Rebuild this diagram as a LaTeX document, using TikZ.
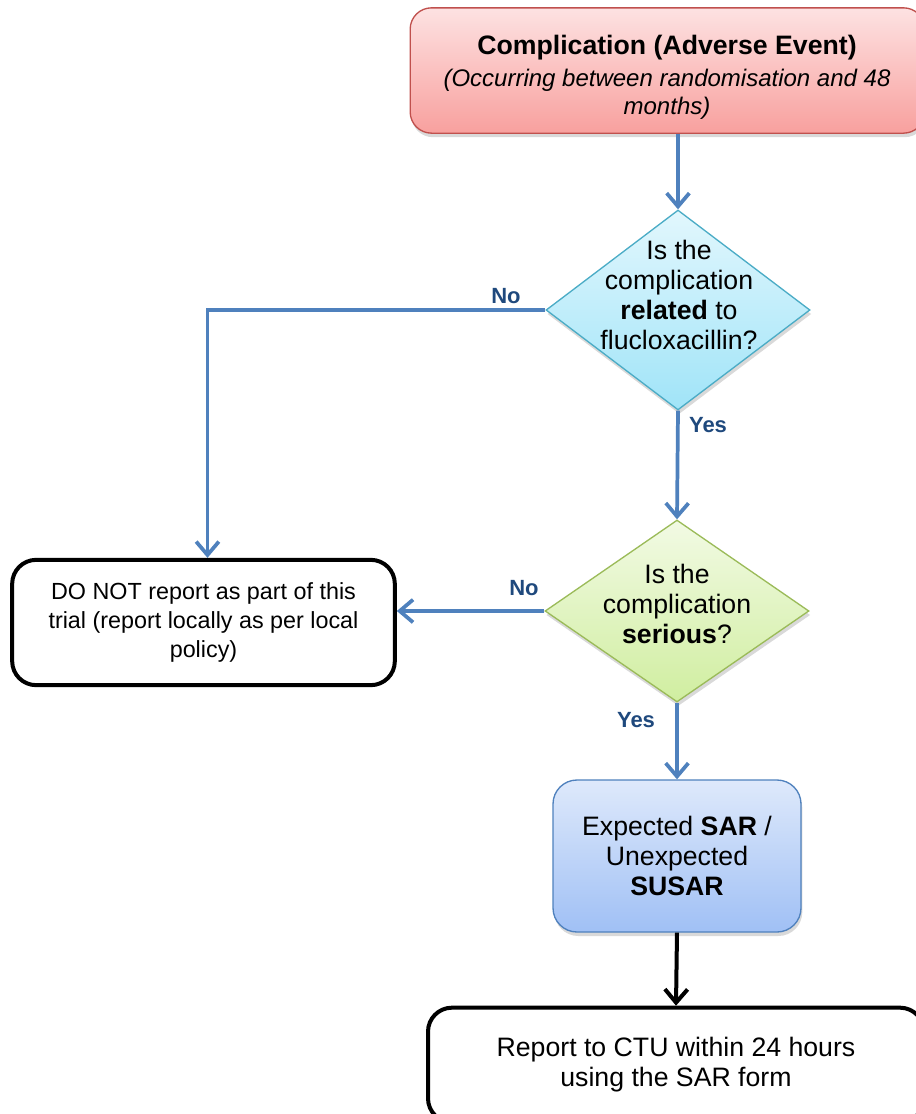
\documentclass[tikz,border=0pt]{standalone}
\usepackage{fontspec}
\setmainfont{Liberation Sans}
\usetikzlibrary{arrows.meta,shapes.geometric,shadows}

\definecolor{redtop}{RGB}{253,226,226}
\definecolor{redbot}{RGB}{248,160,158}
\definecolor{redline}{RGB}{192,80,77}
\definecolor{cyantop}{RGB}{226,247,253}
\definecolor{cyanbot}{RGB}{160,228,248}
\definecolor{cyanline}{RGB}{75,172,198}
\definecolor{greentop}{RGB}{242,250,228}
\definecolor{greenbot}{RGB}{208,238,160}
\definecolor{greenline}{RGB}{155,187,89}
\definecolor{bluetop}{RGB}{222,233,251}
\definecolor{bluebot}{RGB}{160,192,245}
\definecolor{blueline}{RGB}{79,129,189}
\definecolor{linkblue}{RGB}{79,129,189}
\definecolor{lblblue}{RGB}{31,73,125}

\begin{document}
\begin{tikzpicture}[x=0.75pt,y=-0.75pt,
	colbox/.style={rectangle, rounded corners=16pt, line width=1pt, align=center,
		drop shadow={shadow xshift=1pt, shadow yshift=-3pt, opacity=0.3}},
	qdiam/.style={diamond, inner sep=0pt, line width=1pt,
		drop shadow={shadow xshift=1pt, shadow yshift=-3pt, opacity=0.3}},
	plainbox/.style={rectangle, rounded corners=18pt, draw=black, line width=3pt, fill=white, align=center},
	txt/.style={align=center, font=\fontsize{20}{22.5}\selectfont},
	link/.style={draw=linkblue, line width=2.8pt, -{Straight Barb[length=10pt,width=17pt]}},
	lbl/.style={text=lblblue, font=\bfseries\fontsize{16.5}{19}\selectfont}]
	\useasboundingbox (0,0) rectangle (916,1114);
	
	% boxes
	\node[colbox, draw=redline, top color=redtop, bottom color=redbot,
		minimum width=386pt, minimum height=94pt] (cae) at (667.5,70.5) {};
	\node[txt, font=\fontsize{18}{21}\selectfont] (caetxt) at (667,77)
		{{\bfseries\fontsize{20}{22.5}\selectfont Complication (Adverse Event)}\\[3pt]
		{\itshape (Occurring between randomisation and 48}\\
		{\itshape months)}};
	
	\node[qdiam, draw=cyanline, top color=cyantop, bottom color=cyanbot,
		minimum width=198pt, minimum height=150pt] (rel) at (678,310) {};
	\node[txt] (reltxt) at (679,295) {Is the\\complication\\\textbf{related} to\\flucloxacillin?};
	
	\node[qdiam, draw=greenline, top color=greentop, bottom color=greenbot,
		minimum width=198pt, minimum height=136.5pt] (ser) at (677,611) {};
	\node[txt] (sertxt) at (677,604) {Is the\\complication\\\textbf{serious}?};
	
	\node[plainbox, minimum width=287pt, minimum height=94pt,
		font=\fontsize{17.5}{21.5}\selectfont] (donot) at (203.5,622.5)
		{DO NOT report as part of this\\trial (report locally as per local\\policy)};
	
	\node[colbox, draw=blueline, top color=bluetop, bottom color=bluebot, rounded corners=18pt,
		minimum width=186pt, minimum height=114pt, font=\fontsize{20}{22.5}\selectfont] (sar) at (677,856)
		{Expected \textbf{SAR} /\\Unexpected\\\textbf{SUSAR}};
	
	\node[plainbox, minimum width=372pt, minimum height=86pt,
		font=\fontsize{20}{22.5}\selectfont] (rep) at (676,1065)
		{Report to CTU within 24 hours\\using the SAR form};
	
	% connectors
	\draw[link] (rel.north |- cae.south) -- (rel.north);
	\draw[link] (rel.west) -| ([xshift=3pt]donot.north);
	\draw[link] (rel.south) -- (ser.north);
	\draw[link] (ser.west) -- (ser.west -| donot.east);
	\draw[link] (ser.south) -- (sar.north);
	\draw[line width=3pt, -{Straight Barb[length=10pt,width=17pt]}] (sar.south) -- (rep.north);
	
	% labels
	\node[lbl] (no1) at (506,296) {No};
	\node[lbl] (yes1) at (708,425) {Yes};
	\node[lbl] (no2) at (524,588) {No};
	\node[lbl] (yes2) at (636,720) {Yes};
\end{tikzpicture}
\end{document}
